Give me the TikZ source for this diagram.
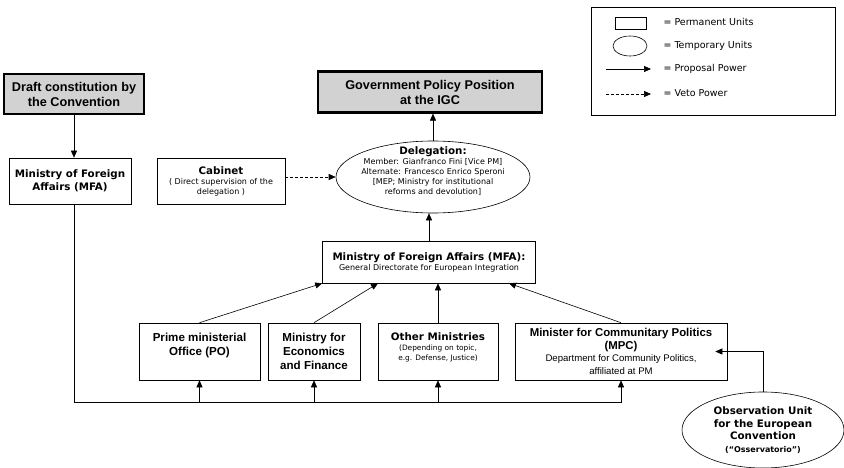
\documentclass[tikz,border=0pt]{standalone}
\usepackage{fontspec}
\setmainfont{DejaVu Sans}
\newfontfamily\arialf{Liberation Sans}
\usetikzlibrary{shapes,arrows.meta,positioning}
\newcommand{\unitfont}{\bfseries\fontsize{10.3}{12.5}\selectfont}
\newcommand{\notefont}{\fontsize{8}{10}\selectfont}
\newcommand{\othfont}{\fontsize{7.4}{10}\selectfont}
\newcommand{\arialbf}{\arialf\bfseries\fontsize{11.6}{14}\selectfont}
\newcommand{\arialnote}{\arialf\fontsize{9.6}{12.5}\selectfont}
\newcommand{\keyfont}{\fontsize{9.5}{11}\selectfont}
\tikzstyle{perm}=[rectangle,draw,align=center,inner sep=2pt,line width=0.6pt]
\tikzstyle{temp}=[ellipse,draw,align=center,inner sep=0pt,line width=0.6pt]
\tikzstyle{outcome}=[rectangle,draw,line width=2.2pt,fill=gray!35,align=center,inner sep=0pt,font=\arialf\bfseries\fontsize{12.7}{15}\selectfont]
\tikzstyle{arr}=[-{Triangle[length=7pt,width=6pt]},line width=0.6pt]
\tikzstyle{veto}=[arr,dash pattern=on 3pt off 2pt]

\begin{document}
\begin{tikzpicture}[x=1pt,y=-1pt]
\useasboundingbox (0,0) rectangle (844,468);
\node[outcome,minimum width=140pt,minimum height=40pt] (draft) at (74,94) {Draft constitution by\\the Convention};
\node[outcome,minimum width=224pt,minimum height=41pt] (gov) at (430,92) {Government Policy Position\\at the IGC};
\node[perm,minimum width=122pt,minimum height=46pt,font=\unitfont] (mfa) at (70,181) {Ministry of Foreign\\Affairs (MFA)};
\node[perm,minimum width=128pt,minimum height=46pt,font=\notefont] (cab) at (221,181) {{\unitfont Cabinet}\\( Direct supervision of the\\delegation )};
\node[temp,inner xsep=-7pt,inner ysep=-6pt,text depth=13pt,minimum width=194pt,minimum height=72pt,font=\notefont] (dele) at (433,177) {{\unitfont Delegation:}\\Member: Gianfranco Fini [Vice PM]\\Alternate: Francesco Enrico Speroni\\{}[MEP; Ministry for institutional\\reforms and devolution]};
\node[perm,minimum width=213pt,minimum height=42pt,font=\notefont] (gd) at (429,262) {{\unitfont Ministry of Foreign Affairs (MFA):}\\General Directorate for European Integration};
\node[perm,minimum width=121pt,minimum height=57pt,font=\arialbf,text depth=14pt] (po) at (199.5,351.5) {Prime ministerial\\Office (PO)};
\node[perm,minimum width=92pt,minimum height=57pt,font=\arialbf] (mef) at (314,351.5) {Ministry for\\Economics\\and Finance};
\node[perm,minimum width=120pt,minimum height=57pt,font=\othfont,text depth=10pt] (oth) at (438,351.5) {{\unitfont Other Ministries}\\(Depending on topic,\\e.g. Defense, Justice)};
\node[perm,minimum width=212pt,minimum height=57pt,font=\arialnote] (mpc) at (621,351.5) {{\unitfont\fontsize{11.4}{13}\selectfont Minister for Communitary Politics}\\{\unitfont\fontsize{11.4}{13}\selectfont (MPC)}\\Department for Community Politics,\\affiliated at PM};
\node[temp,minimum width=162pt,minimum height=76pt,font=\unitfont] (obs) at (763,430) {Observation Unit\\for the European\\Convention\\{\fontsize{8}{9.8}\selectfont (“Osservatorio”)}};
\coordinate (bus) at (74,402);
\draw[arr] (draft.south) -- (draft.south |- mfa.north);
\draw[arr] (dele.north) -- (dele.north |- gov.south);
\draw[arr] (gd.north) -- (gd.north |- dele.south);
\draw[veto] (cab.east |- dele.west) -- (dele.west);
\draw[arr] (mfa.south -| bus) |- (mpc.south |- bus) -- (mpc.south);
\foreach \n in {po,mef,oth}
  \draw[arr] (\n.south |- bus) -- (\n.south);
\draw[arr] (po.north) -- (gd.south west);
\draw[arr] (mef.north) -- ([xshift=-51pt]gd.south);
\draw[arr] (oth.north) -- (oth.north |- gd.south);
\draw[arr] (mpc.north) -- ([xshift=80pt]gd.south);
\draw[arr] (obs.north) |- ([xshift=-12pt]mpc.east);
\draw[line width=0.6pt] (591,7) rectangle (835,115);
\draw[line width=0.6pt] (615,17) rectangle (646,29);
\draw[line width=0.6pt] (630,46) ellipse (17 and 10);
\coordinate (k1) at (606,69);
\coordinate (k2) at (606,94);
\draw[arr] (k1) -- ++(45,0);
\draw[veto] (k2) -- ++(45,0);
\node[anchor=west,font=\keyfont] (kperm) at (660,22) {= Permanent Units};
\node[anchor=west,font=\keyfont] (ktemp) at (660,46) {= Temporary Units};
\node[anchor=west,font=\keyfont] (kprop) at (660,69) {= Proposal Power};
\node[anchor=west,font=\keyfont] (kveto) at (660,93) {= Veto Power};
\end{tikzpicture}
\end{document}
